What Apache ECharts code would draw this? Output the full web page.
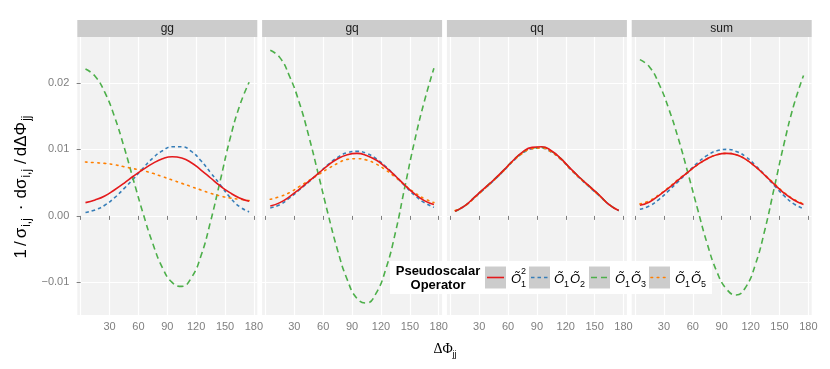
<!DOCTYPE html>
<html>
<head>
<meta charset="utf-8">
<script src="https://cdn.jsdelivr.net/npm/echarts@6/dist/echarts.min.js"></script>
<style>
  html, body { margin: 0; padding: 0; background: #fff; }
  #chart { width: 830px; height: 369px; }
</style>
</head>
<body>
<div id="chart"></div>
<script>
// x positions (degrees) where the curves are sampled
const phi = [5, 15, 25, 35, 45, 55, 65, 75, 85, 95, 105, 115, 125, 135, 145, 155, 165, 175];
const panels = ["gg", "gq", "qq", "sum"];
const xTicks = [0, 30, 60, 90, 120, 150, 180];
const xLabels = [30, 60, 90, 120, 150, 180];
const yTicks = [-0.01, 0, 0.01, 0.02];

// gg
const ggO1sq = [0.0020, 0.0024, 0.0030, 0.0039, 0.0049, 0.0060, 0.0070, 0.0079, 0.0086, 0.0089, 0.0087, 0.0080, 0.0069, 0.0057, 0.0045, 0.0035, 0.0027, 0.0022];
const ggO1O2 = [0.0005, 0.0009, 0.0016, 0.0027, 0.0041, 0.0056, 0.0072, 0.0087, 0.0098, 0.0104, 0.0104, 0.0097, 0.0083, 0.0065, 0.0047, 0.0028, 0.0014, 0.0006];
const ggO1O3 = [0.0221, 0.0210, 0.0186, 0.0150, 0.0104, 0.0053, 0.0003, -0.0042, -0.0078, -0.0100, -0.0106, -0.0093, -0.0060, -0.0008, 0.0053, 0.0115, 0.0165, 0.0201];
const ggO1O5 = [0.0081, 0.0080, 0.0079, 0.0077, 0.0074, 0.0071, 0.0068, 0.0064, 0.0059, 0.0054, 0.0049, 0.0044, 0.0039, 0.0034, 0.0030, 0.0027, 0.0025, 0.0023];

// gq
const gqO1sq = [0.0015, 0.0020, 0.0029, 0.0040, 0.0052, 0.0064, 0.0076, 0.0086, 0.0092, 0.0094, 0.0091, 0.0084, 0.0073, 0.0060, 0.0046, 0.0033, 0.0023, 0.0017];
const gqO1O2 = [0.0012, 0.0017, 0.0027, 0.0039, 0.0051, 0.0064, 0.0077, 0.0088, 0.0095, 0.0097, 0.0094, 0.0086, 0.0074, 0.0060, 0.0045, 0.0031, 0.0020, 0.0013];
const gqO1O3 = [0.0249, 0.0238, 0.0210, 0.0171, 0.0120, 0.0062, 0.0003, -0.0052, -0.0096, -0.0124, -0.0131, -0.0116, -0.0080, -0.0025, 0.0045, 0.0113, 0.0172, 0.0222];
const gqO1O5 = [0.0025, 0.0029, 0.0035, 0.0044, 0.0053, 0.0062, 0.0071, 0.0079, 0.0085, 0.0086, 0.0084, 0.0078, 0.0069, 0.0058, 0.0046, 0.0035, 0.0026, 0.0020];

// qq
const qqO1sq = [0.0007, 0.0015, 0.0028, 0.0041, 0.0054, 0.0068, 0.0083, 0.0096, 0.0103, 0.0104, 0.0098, 0.0086, 0.0071, 0.0057, 0.0044, 0.0031, 0.0017, 0.0008];
const qqO1O2 = [0.0007, 0.0015, 0.0027, 0.0040, 0.0053, 0.0067, 0.0082, 0.0094, 0.0101, 0.0102, 0.0096, 0.0085, 0.0070, 0.0056, 0.0043, 0.0030, 0.0017, 0.0008];
const qqO1O3 = [0.0007, 0.0015, 0.0028, 0.0041, 0.0054, 0.0068, 0.0083, 0.0095, 0.0102, 0.0103, 0.0097, 0.0086, 0.0071, 0.0057, 0.0044, 0.0031, 0.0017, 0.0008];
const qqO1O5 = [0.0008, 0.0015, 0.0027, 0.0040, 0.0053, 0.0067, 0.0082, 0.0094, 0.0101, 0.0102, 0.0096, 0.0085, 0.0070, 0.0056, 0.0043, 0.0030, 0.0017, 0.0008];

// sum
const sumO1sq = [0.0016, 0.0021, 0.0031, 0.0042, 0.0054, 0.0066, 0.0077, 0.0086, 0.0092, 0.0094, 0.0092, 0.0085, 0.0074, 0.0061, 0.0047, 0.0034, 0.0024, 0.0017];
const sumO1O2 = [0.0010, 0.0015, 0.0025, 0.0038, 0.0052, 0.0066, 0.0080, 0.0091, 0.0098, 0.0100, 0.0097, 0.0089, 0.0076, 0.0061, 0.0045, 0.0030, 0.0018, 0.0011];
const sumO1O3 = [0.0235, 0.0224, 0.0198, 0.0161, 0.0116, 0.0064, 0.0010, -0.0042, -0.0084, -0.0110, -0.0119, -0.0107, -0.0073, -0.0020, 0.0045, 0.0110, 0.0167, 0.0211];
const sumO1O5 = [0.0018, 0.0023, 0.0032, 0.0043, 0.0055, 0.0066, 0.0077, 0.0086, 0.0092, 0.0094, 0.0092, 0.0085, 0.0074, 0.0061, 0.0048, 0.0035, 0.0025, 0.0018];

const panelData = [
  [ggO1sq, ggO1O2, ggO1O3, ggO1O5],
  [gqO1sq, gqO1O2, gqO1O3, gqO1O5],
  [qqO1sq, qqO1O2, qqO1O3, qqO1O5],
  [sumO1sq, sumO1O2, sumO1O3, sumO1O5],
];

const colors = ["#E41A1C", "#377EB8", "#4DAF4A", "#FF7F00"];
const dashes = ["solid", [3.5, 3], [6, 4], [1.6, 4.6]];
const names = ["O1^2", "O1O2", "O1O3", "O1O5"];

const chart = echarts.init(document.getElementById("chart"));

const panelLeft = 77.3, panelStep = 184.8, panelW = 180;
const plotTop = 37, plotH = 278;
const tickGray = "#7F7F7F";

const grids = [], xAxes = [], yAxes = [], series = [];
panels.forEach((p, i) => {
  grids.push({
    left: panelLeft + panelStep * i, top: plotTop, width: panelW, height: plotH,
    show: true, backgroundColor: "#F2F2F2", borderWidth: 0,
  });
  xAxes.push({
    type: "value", gridIndex: i, min: -3.5, max: 183.5,
    axisLine: { show: false },
    axisTick: { show: true, length: 4, customValues: xTicks, lineStyle: { color: tickGray } },
    axisLabel: {
      customValues: xLabels, color: tickGray, fontSize: 11, margin: 6,
      fontFamily: "Liberation Sans",
    },
    splitLine: { show: true, lineStyle: { color: "#FFFFFF", width: 1.2 } },
  });
  yAxes.push({
    type: "value", gridIndex: i, min: -0.0149, max: 0.0269,
    axisLine: { show: false },
    axisTick: { show: i === 0, length: 4, customValues: yTicks, lineStyle: { color: tickGray } },
    axisLabel: {
      show: i === 0, customValues: yTicks, color: tickGray, fontSize: 11, margin: 8,
      fontFamily: "Liberation Sans",
      formatter: (v) => (v < 0 ? "\u2212" + Math.abs(v).toFixed(2) : v.toFixed(2)),
    },
    splitLine: { show: true, lineStyle: { color: "#FFFFFF", width: 1.2 } },
  });
  panelData[i].forEach((vals, k) => {
    series.push({
      name: names[k], type: "line", xAxisIndex: i, yAxisIndex: i,
      data: phi.map((x, j) => [x, vals[j]]),
      smooth: 0.5, symbol: "none", silent: true,
      lineStyle: { color: colors[k], width: 1.6, type: dashes[k], cap: k === 3 ? "round" : "butt" },
      z: k === 0 ? 3 : 2,
    });
  });
});

const graphics = [];

// strips
panels.forEach((p, i) => {
  const x = panelLeft + panelStep * i;
  graphics.push({
    type: "rect", shape: { x: x, y: 20, width: panelW, height: 17 },
    style: { fill: "#CCCCCC" }, silent: true,
  });
  graphics.push({
    type: "text", x: x + panelW / 2, y: 28.5,
    style: { text: p, fill: "#1A1A1A", fontSize: 12, fontFamily: "Liberation Sans", align: "center", verticalAlign: "middle" },
    silent: true,
  });
});

// axis titles
graphics.push({
  type: "text", x: 21, y: 186, rotation: Math.PI / 2,
  style: {
    text: "{n|1}{g|/}{n|σ}{s|i,j}{d|·}{n|dσ}{s|i,j}{g|/}{n|dΔΦ}{s|jj}",
    align: "center", verticalAlign: "middle", fill: "#000",
    rich: {
      n: { fontSize: 17, fontFamily: "Liberation Sans", lineHeight: 23, verticalAlign: "middle", fill: "#000" },
      g: { fontSize: 17, fontFamily: "Liberation Sans", lineHeight: 23, verticalAlign: "middle", fill: "#000", padding: [0, 3, 0, 3] },
      d: { fontSize: 17, fontFamily: "Liberation Sans", lineHeight: 23, verticalAlign: "middle", fill: "#000", padding: [0, 6, 0, 6] },
      s: { fontSize: 12, fontFamily: "Liberation Sans", lineHeight: 23, verticalAlign: "bottom", fill: "#000", padding: [0, 2, 0, 1] },
    },
  },
  silent: true,
});
graphics.push({
  type: "text", x: 445, y: 349,
  style: {
    text: "{n|ΔΦ}{s|jj}",
    align: "center", verticalAlign: "middle",
    rich: {
      n: { fontSize: 14, fontFamily: "Liberation Serif", lineHeight: 20, verticalAlign: "middle", fill: "#000" },
      s: { fontSize: 9, fontFamily: "Liberation Sans", lineHeight: 20, verticalAlign: "bottom", fill: "#000" },
    },
  },
  silent: true,
});

// legend
graphics.push({
  type: "rect", z: 100, shape: { x: 390, y: 261, width: 322, height: 33 },
  style: { fill: "#FFFFFF" }, silent: true,
});
graphics.push({
  type: "text", z: 101, x: 438, y: 278.3,
  style: {
    text: "Pseudoscalar\nOperator", align: "center", verticalAlign: "middle",
    fontSize: 13, fontWeight: "bold", fontFamily: "Liberation Sans", lineHeight: 13.5, fill: "#000",
  },
  silent: true,
});
const keyX = [485, 529, 589, 649];
const labelX = [511, 554, 615, 675];
const labelParts = [[["1", "2"]], [["1"], ["2"]], [["1"], ["3"]], [["1"], ["5"]]];
keyX.forEach((kx, k) => {
  graphics.push({
    type: "rect", z: 101, shape: { x: kx, y: 266.5, width: 21, height: 22 },
    style: { fill: "#CCCCCC" }, silent: true,
  });
  graphics.push({
    type: "line", z: 102, shape: { x1: kx + 2, y1: 277.5, x2: kx + 19, y2: 277.5 },
    style: { stroke: colors[k], lineWidth: 1.6, lineDash: dashes[k] === "solid" ? null : dashes[k], lineCap: k === 3 ? "round" : "butt" },
    silent: true,
  });
  let lx = labelX[k];
  labelParts[k].forEach((part) => {
    graphics.push({
      type: "text", z: 102, x: lx, y: 279.5,
      style: { text: "Õ", fontSize: 13, fontStyle: "italic", fontFamily: "Liberation Sans", fill: "#000", verticalAlign: "middle" },
      silent: true,
    });
    graphics.push({
      type: "text", z: 102, x: lx + 10, y: 285,
      style: { text: part[0], fontSize: 9, fontFamily: "Liberation Sans", fill: "#000", verticalAlign: "middle" },
      silent: true,
    });
    if (part[1]) {
      graphics.push({
        type: "text", z: 102, x: lx + 10, y: 272,
        style: { text: part[1], fontSize: 9, fontFamily: "Liberation Sans", fill: "#000", verticalAlign: "middle" },
        silent: true,
      });
    }
    lx += 16;
  });
});

chart.setOption({
  animation: false,
  backgroundColor: "#FFFFFF",
  grid: grids,
  xAxis: xAxes,
  yAxis: yAxes,
  series: series,
  graphic: graphics,
});
</script>
</body>
</html>
